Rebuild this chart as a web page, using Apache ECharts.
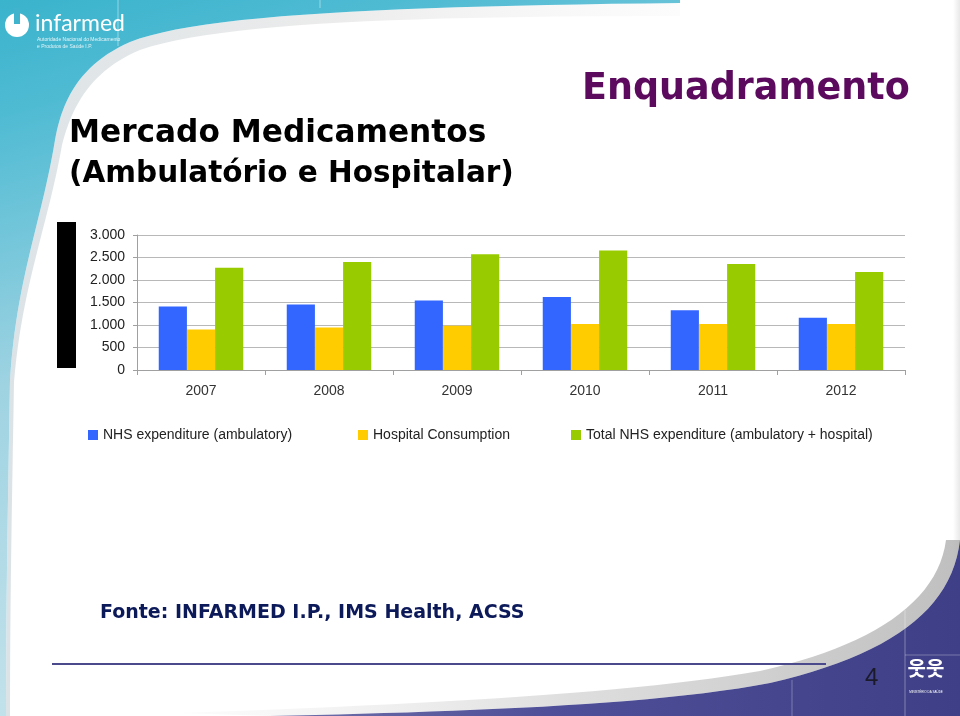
<!DOCTYPE html>
<html>
<head>
<meta charset="utf-8">
<script src="https://cdn.jsdelivr.net/npm/echarts@6/dist/echarts.min.js"></script>
<style>
html,body{margin:0;padding:0;background:#fff;}
#c{width:960px;height:716px;}
</style>
</head>
<body>
<div id="c"></div>
<script>
// ---- data ----
var years = ['2007', '2008', '2009', '2010', '2011', '2012'];
var seriesNames = ['NHS expenditure (ambulatory)', 'Hospital Consumption', 'Total NHS expenditure (ambulatory + hospital)'];
var ambulatory = [1410, 1455, 1545, 1625, 1330, 1160];
var hospital = [900, 945, 985, 1025, 1025, 1025];
var totalNHS = [2270, 2400, 2570, 2655, 2355, 2180];
var yTicks = [0, 500, 1000, 1500, 2000, 2500, 3000];

var colors = ['#3366ff', '#ffcc00', '#99cc00'];

var chart = echarts.init(document.getElementById('c'), null, {renderer: 'canvas'});

function fmt(v) {
  var s = String(v);
  return s.replace(/\B(?=(\d{3})+(?!\d))/g, '.');
}
function lin(x, y, x2, y2, stops) {
  return {type: 'linear', x: x, y: y, x2: x2, y2: y2, colorStops: stops, global: false};
}
// sample a chain of cubic bezier segments into points (decoration only)
function bez(start, segs) {
  var pts = [start.slice()];
  var p0 = start;
  segs.forEach(function (s) {
    var p1 = [s[0], s[1]], p2 = [s[2], s[3]], p3 = [s[4], s[5]];
    for (var i = 1; i <= 24; i++) {
      var t = i / 24, u = 1 - t;
      pts.push([
        u * u * u * p0[0] + 3 * u * u * t * p1[0] + 3 * u * t * t * p2[0] + t * t * t * p3[0],
        u * u * u * p0[1] + 3 * u * u * t * p1[1] + 3 * u * t * t * p2[1] + t * t * t * p3[1]
      ]);
    }
    p0 = p3;
  });
  return pts;
}

var topCurve = bez([680, 3], [[400, 6, 200, 14, 130, 42], [80, 64, 62, 100, 55, 140], [42, 220, 16, 280, 10, 380], [8, 500, 6, 600, 6, 716]]);
var topShadowIn = bez([10, 716], [[10, 600, 12, 500, 14, 382], [22, 285, 48, 225, 62, 145], [72, 105, 92, 70, 140, 50], [220, 22, 420, 16, 680, 16]]);
var botCurve = bez([960, 540], [[952, 610, 890, 655, 770, 683], [650, 706, 450, 712, 270, 716]]);
var botShadowIn = bez([180, 713], [[440, 704, 640, 692, 760, 671], [872, 646, 938, 602, 946, 540]]);

var legendLefts = [88, 358, 571];

var option = {
  animation: false,
  backgroundColor: '#ffffff',
  grid: {left: 137, right: 55, top: 235, bottom: 346, containLabel: false},
  xAxis: {
    type: 'category',
    data: years,
    boundaryGap: true,
    axisLine: {show: true, lineStyle: {color: '#a0a0a0', width: 1}},
    axisTick: {show: true, length: 5, alignWithLabel: false, lineStyle: {color: '#a0a0a0'}},
    axisLabel: {margin: 14, color: '#333', fontSize: 14, fontFamily: 'Liberation Sans'}
  },
  yAxis: {
    type: 'value',
    min: yTicks[0],
    max: yTicks[yTicks.length - 1],
    interval: 500,
    axisLine: {show: true, lineStyle: {color: '#a0a0a0', width: 1}},
    axisTick: {show: true, length: 4, lineStyle: {color: '#a0a0a0'}},
    splitLine: {show: true, lineStyle: {color: '#b8b8b8', width: 1}},
    axisLabel: {margin: 12, color: '#222', fontSize: 14, fontFamily: 'Liberation Sans', formatter: fmt}
  },
  legend: seriesNames.map(function (n, i) {
    return {
      data: [n], left: legendLefts[i], top: 428, itemWidth: 10, itemHeight: 10,
      itemGap: 0, padding: 0, icon: 'rect',
      textStyle: {fontSize: 14, color: '#222', fontFamily: 'Liberation Sans'}
    };
  }),
  series: [
    {name: seriesNames[0], type: 'bar', data: ambulatory, itemStyle: {color: colors[0]}, barGap: '0%', barCategoryGap: '34%'},
    {name: seriesNames[1], type: 'bar', data: hospital, itemStyle: {color: colors[1]}, barGap: '0%', barCategoryGap: '34%'},
    {name: seriesNames[2], type: 'bar', data: totalNHS, itemStyle: {color: colors[2]}, barGap: '0%', barCategoryGap: '34%'}
  ],
  graphic: [
    // soft shadow along top swoosh
    {type: 'polygon', z: -11, silent: true, shape: {points: topCurve.concat(topShadowIn)},
      style: {fill: lin(0, 0, 1, 0, [{offset: 0, color: 'rgba(205,215,220,0.7)'}, {offset: 0.5, color: 'rgba(220,220,220,0.55)'}, {offset: 1, color: 'rgba(240,240,240,0.2)'}])}},
    // top-left teal header with swoosh
    {type: 'polygon', z: -10, silent: true, shape: {points: [[0, 0], [680, 0]].concat(topCurve).concat([[0, 716]])},
      style: {fill: lin(0, 0, 0.3, 1, [{offset: 0, color: '#3ab3cc'}, {offset: 0.15, color: '#4fbbd3'}, {offset: 0.5, color: '#9fd3e2'}, {offset: 1, color: '#c8e4ec'}])}},
    {type: 'line', z: -9, silent: true, shape: {x1: 118, y1: 0, x2: 118, y2: 46}, style: {stroke: 'rgba(255,255,255,0.45)', lineWidth: 1}},
    {type: 'line', z: -9, silent: true, shape: {x1: 320, y1: 0, x2: 320, y2: 8}, style: {stroke: 'rgba(255,255,255,0.45)', lineWidth: 1}},
    // thin right edge
    {type: 'rect', z: -12, silent: true, shape: {x: 953, y: 0, width: 7, height: 716}, style: {fill: lin(0, 0, 1, 0, [{offset: 0, color: '#ffffff'}, {offset: 1, color: '#e8e8e8'}])}},
    // bottom shadow under swoosh
    {type: 'polygon', z: -11, silent: true, shape: {points: botCurve.concat(botShadowIn)},
      style: {fill: lin(0, 0, 1, 0, [{offset: 0, color: 'rgba(225,225,225,0.1)'}, {offset: 0.5, color: 'rgba(200,200,200,0.6)'}, {offset: 1, color: 'rgba(175,175,175,0.8)'}])}},
    // bottom-right dark region
    {type: 'polygon', z: -10, silent: true, shape: {points: botCurve.concat([[960, 716]])},
      style: {fill: lin(0, 0, 1, 0, [{offset: 0, color: '#7070aa'}, {offset: 0.4, color: '#4e4f98'}, {offset: 1, color: '#3e3f86'}])}},
    {type: 'line', z: -8, silent: true, shape: {x1: 905, y1: 610, x2: 905, y2: 716}, style: {stroke: 'rgba(255,255,255,0.35)', lineWidth: 1}},
    {type: 'line', z: -8, silent: true, shape: {x1: 792, y1: 680, x2: 792, y2: 716}, style: {stroke: 'rgba(255,255,255,0.3)', lineWidth: 1}},
    {type: 'line', z: -8, silent: true, shape: {x1: 905, y1: 655, x2: 960, y2: 655}, style: {stroke: 'rgba(255,255,255,0.3)', lineWidth: 1}},
    // infarmed logo
    {type: 'circle', silent: true, shape: {cx: 17, cy: 25, r: 12}, style: {fill: '#ffffff'}},
    {type: 'rect', silent: true, shape: {x: 14, y: 8, width: 6, height: 16}, style: {fill: '#3fb4cc'}},
    {type: 'text', silent: true, style: {x: 35, y: 24, text: 'infarmed', fill: '#ffffff', font: '23px Lato', verticalAlign: 'middle'}},
    {type: 'text', silent: true, style: {x: 37, y: 40, text: 'Autoridade Nacional do Medicamento', fill: 'rgba(255,255,255,0.85)', font: '5px Liberation Sans', verticalAlign: 'middle'}},
    {type: 'text', silent: true, style: {x: 37, y: 47, text: 'e Produtos de Saúde I.P.', fill: 'rgba(255,255,255,0.85)', font: '5px Liberation Sans', verticalAlign: 'middle'}},
    // titles
    {type: 'text', silent: true, style: {x: 582, y: 90, text: 'Enquadramento', fill: '#5c0a5e', font: 'bold 36.5px DejaVu Sans', verticalAlign: 'middle'}},
    {type: 'text', silent: true, style: {x: 69, y: 134, text: 'Mercado Medicamentos', fill: '#000000', font: 'bold 31.2px DejaVu Sans', verticalAlign: 'middle'}},
    {type: 'text', silent: true, style: {x: 69, y: 174, text: '(Ambulatório e Hospitalar)', fill: '#000000', font: 'bold 29.5px DejaVu Sans', verticalAlign: 'middle'}},
    // black block
    {type: 'rect', silent: true, shape: {x: 57, y: 222, width: 19, height: 146}, style: {fill: '#000000'}},
    // source
    {type: 'text', silent: true, style: {x: 100, y: 613, text: 'Fonte: INFARMED I.P., IMS Health, ACSS', fill: '#0d1a5a', font: 'bold 19px DejaVu Sans', verticalAlign: 'middle'}},
    // footer line and page number
    {type: 'line', silent: true, shape: {x1: 52, y1: 664, x2: 826, y2: 664}, style: {stroke: '#4a4a8c', lineWidth: 2}},
    {type: 'text', silent: true, style: {x: 865, y: 678, text: '4', fill: '#1a1a2a', font: '24px Liberation Sans', verticalAlign: 'middle'}},
    // ministry emblem (simplified)
    {type: 'text', silent: true, style: {x: 926, y: 668, text: '웃웃', fill: '#ffffff', font: 'bold 20px Noto Sans CJK KR', align: 'center', verticalAlign: 'middle'}},
    {type: 'text', silent: true, style: {x: 926, y: 692, text: 'MINISTÉRIO DA SAÚDE', fill: '#ffffff', font: '3px Liberation Sans', align: 'center', verticalAlign: 'middle'}}
  ]
};
chart.setOption(option);
</script>
</body>
</html>
